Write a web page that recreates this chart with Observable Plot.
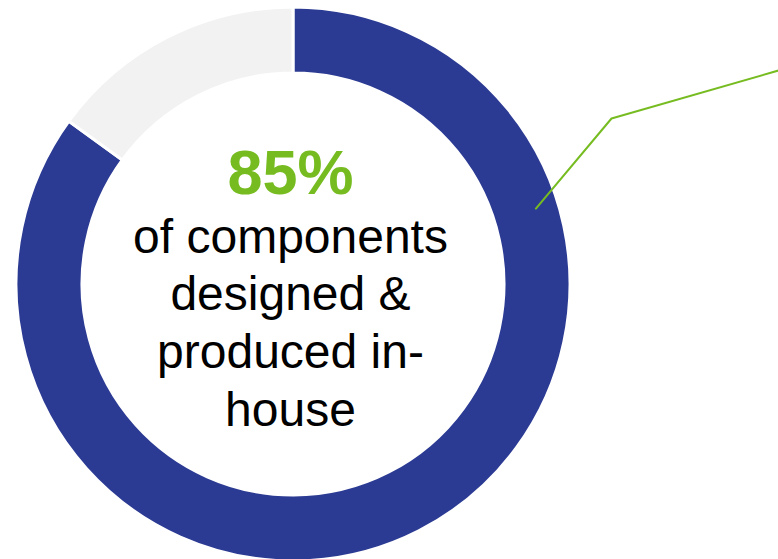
<!DOCTYPE html>
<html><head><meta charset="utf-8">
<script src="https://cdn.jsdelivr.net/npm/d3@7"></script>
<script src="https://cdn.jsdelivr.net/npm/@observablehq/plot@0.6"></script>
<style>html,body{margin:0;padding:0;background:#fff;overflow:hidden} svg{display:block}</style>
</head><body><div id="chart"></div>
<script>
// ---- data ----
const categories = ["Designed & produced in-house", "Other"];
const shares = [85, 15];
const headline = ["85%"];
const labelLines = ["of components", "designed &", "produced in-", "house"];

// ---- layout / style ----
const W = 778, H = 559;
const layout = {cx: 293, cy: 284, rOuter: 277, rInner: 211, textX: 290,
  headBaseline: 193, firstBaseline: 252, lineStep: 57.7,
  leaderAngle: 0.2017, leaderR: 254, elbow: [611, 118], end: [778, 70]};
const blue = "#2b3a93", gray = "#f2f2f2", green = "#76bc21";

const slices = categories.map((c, i) => ({category: c, value: shares[i]}));

function donut(index, scales) {
  const {x, y, color} = scales;
  const cx = x(layout.cx), cy = y(layout.cy);
  const rO = x(layout.cx + layout.rOuter) - cx;
  const rI = x(layout.cx + layout.rInner) - cx;
  const arcs = d3.pie().sort(null).value(d => d.value)(slices);
  const arc = d3.arc().innerRadius(rI).outerRadius(rO);
  const g = d3.create("svg:g").attr("transform", `translate(${cx},${cy})`);
  g.selectAll("path").data(arcs).join("path")
    .attr("d", arc)
    .attr("fill", d => color(d.data.category))
    .attr("stroke", "#fff")
    .attr("stroke-width", 3)
    .attr("stroke-linejoin", "miter");
  return g.node();
}

const a = layout.leaderAngle * 2 * Math.PI;
const leader = [
  [layout.cx + layout.leaderR * Math.sin(a), layout.cy - layout.leaderR * Math.cos(a)],
  layout.elbow,
  layout.end
];

const blackSize = 48, headSize = 63;
const chart = Plot.plot({
  width: W, height: H,
  margin: 0,
  x: {domain: [0, W], range: [0, W], axis: null},
  y: {domain: [0, H], range: [0, H], axis: null},
  color: {domain: categories, range: [blue, gray]},
  style: {fontFamily: "'Liberation Sans', Arial, sans-serif", background: "#fff"},
  marks: [
    donut,
    Plot.line(leader, {x: d => d[0], y: d => d[1], stroke: green, strokeWidth: 2}),
    Plot.text(headline, {x: () => layout.textX, y: () => layout.headBaseline - 0.32 * headSize,
      text: d => d, fill: green, fontSize: headSize, fontWeight: "bold", textAnchor: "middle"}),
    Plot.text(labelLines, {x: () => layout.textX,
      y: (d, i) => layout.firstBaseline + i * layout.lineStep - 0.32 * blackSize,
      text: d => d, fill: "#000", fontSize: blackSize, textAnchor: "middle"})
  ]
});
document.getElementById("chart").append(chart);
</script>
</body></html>
